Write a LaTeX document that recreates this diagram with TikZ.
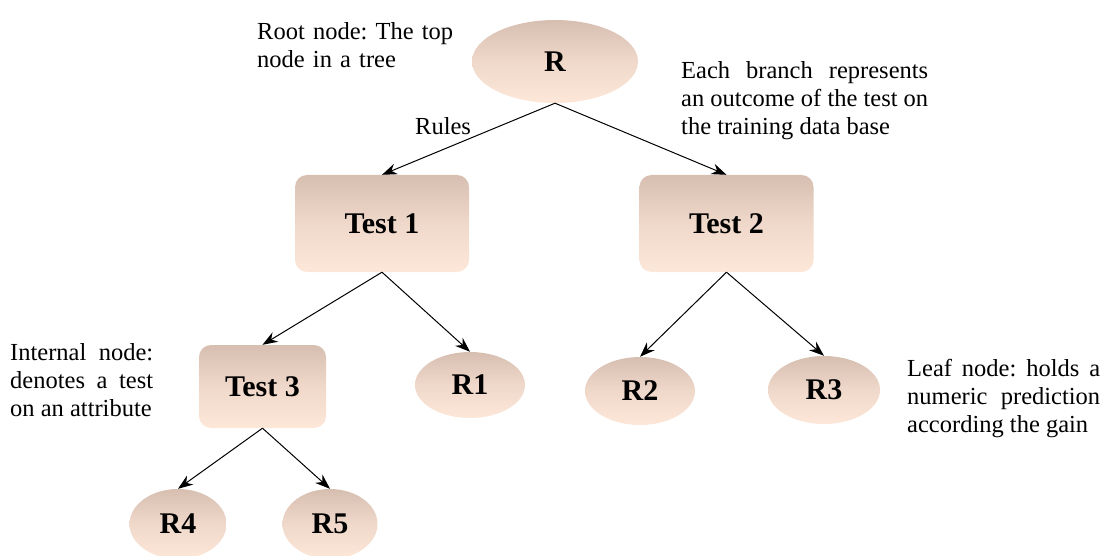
\documentclass[tikz,border=0pt]{standalone}
\usepackage{fontspec}
\setmainfont{Liberation Serif}
\usetikzlibrary{arrows.meta,shapes.geometric}

\definecolor{nodetop}{RGB}{214,190,176}
\definecolor{nodebot}{RGB}{253,231,216}

\begin{document}
\begin{tikzpicture}[x=1pt,y=-1pt,
    shadebox/.style={top color=nodetop,bottom color=nodebot,middle color=nodebot!65!nodetop,
      draw=none,inner sep=0pt,font=\fontsize{30}{34}\selectfont\bfseries},
    testbox/.style={shadebox,rectangle,rounded corners=12pt},
    leafnode/.style={shadebox,ellipse},
    note/.style={anchor=base west,inner sep=0pt,align=justify,
      font=\fontsize{24.5}{28}\selectfont\frenchspacing},
    branch/.style={-{Stealth[length=15pt,width=11pt]},line width=1pt}]
    % Page frame (reference proportions)
    \useasboundingbox (0,0) rectangle (1107,556);

    % ---- Root ----
    \node[leafnode,minimum width=166pt,minimum height=83pt] (R) at (555,61.5) {R};

    % ---- Tests ----
    \node[testbox,minimum width=174pt,minimum height=97pt] (T1) at (382,223.5) {Test 1};
    \node[testbox,minimum width=174pt,minimum height=97pt] (T2) at (726.5,223.5) {Test 2};
    \node[testbox,minimum width=127pt,minimum height=83pt] (T3) at (262.5,386.5) {Test 3};

    % ---- Leaves ----
    \node[leafnode,minimum width=110pt,minimum height=66pt] (R1) at (470,385) {R1};
    \node[leafnode,minimum width=110pt,minimum height=68pt] (R2) at (640,391) {R2};
    \node[leafnode,minimum width=112pt,minimum height=68pt] (R3) at (824,390) {R3};
    \node[leafnode,minimum width=97pt,minimum height=70pt] (R4) at (178,524) {R4};
    \node[leafnode,minimum width=95pt,minimum height=70pt] (R5) at (330,524) {R5};

    % Branches
    \draw[branch] (R.south) -- (T1.north);
    \draw[branch] (R.south) -- (T2.north);
    \draw[branch] (T1.south) -- (T3.north);
    \draw[branch] (T1.south) -- (R1.north);
    \draw[branch] (T2.south) -- (R2.north);
    \draw[branch] (T2.south) -- (R3.north);
    \draw[branch] (T3.south) -- (R4.north);
    \draw[branch] (T3.south) -- (R5.north);

    % Notes
    \node[note,text width=205pt,align=left] (rootnote) at (257,39.5)
      {Root node: The top\\node in a tree};
    \node[note,align=left] (rules) at (415,134.5) {Rules};
    \node[note,text width=247pt] (branchnote) at (681,79)
      {Each branch represents\linebreak an outcome of the test on\linebreak the training data base};
    \node[note,text width=143pt] (internalnote) at (10,360.5)
      {Internal node:\linebreak denotes a test\linebreak on an attribute};
    \node[note,text width=193pt] (leafnote) at (907,376)
      {Leaf node: holds a\linebreak numeric prediction\linebreak according the gain};
\end{tikzpicture}
\end{document}
